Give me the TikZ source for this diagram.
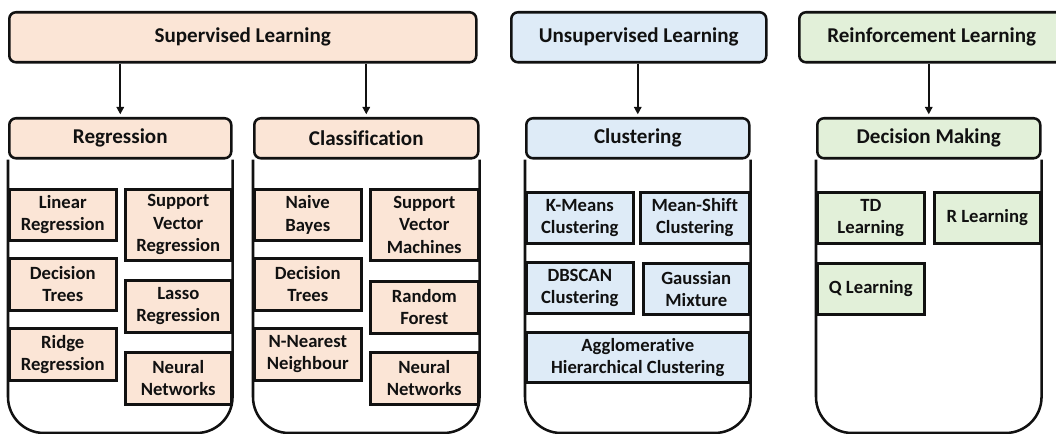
\documentclass[tikz,border=0pt]{standalone}
\usepackage{fontspec}
\setmainfont{Carlito}[Ligatures=NoCommon]
\usetikzlibrary{arrows.meta,backgrounds}
\definecolor{peach}{HTML}{FBE5D6}
\definecolor{skyb}{HTML}{DEEBF7}
\definecolor{mint}{HTML}{E2F0D9}
\definecolor{ink}{HTML}{111111}
\tikzset{
  sz/.style 2 args={minimum width=#1*0.75pt, minimum height=#2*0.75pt},
  head/.style={draw=ink, line width=1.9pt, rounded corners=5pt, inner sep=0pt,
    anchor=north west, text=ink, font=\bfseries\fontsize{15.8}{19}\selectfont},
  item/.style={draw=ink, line width=1.9pt, inner sep=0pt, anchor=north west,
    align=center, text=ink, font=\bfseries\fontsize{14}{16.8}\selectfont},
  wall/.style={draw=ink, line width=1.9pt, rounded corners=27pt},
  link/.style={draw=ink, line width=1.4pt, shorten >=2pt,
    -{Triangle[length=5.5pt,width=5.5pt]}},
}
\begin{document}
\begin{tikzpicture}[x=0.75pt, y=-0.75pt]
\useasboundingbox (0,0) rectangle (1056,434);
\clip (0,0) rectangle (1056,434);
\coordinate (floor) at (0,433);

% top-level categories
\node[head, fill=peach, sz={467}{50}] (sup) at (8,11) {Supervised Learning};
\node[head, fill=skyb,  sz={255}{50}] (uns) at (510,11) {Unsupervised Learning};
\node[head, fill=mint,  sz={265}{50}] (rei) at (798,11) {Reinforcement Learning};

% column headers
\node[head, fill=peach, sz={222}{40}] (reg) at (8,117)   {Regression};
\node[head, fill=peach, sz={224}{40}] (cls) at (253,117) {Classification};
\node[head, fill=skyb,  sz={223}{40}] (clu) at (525,117) {Clustering};
\node[head, fill=mint,  sz={223}{40}] (dec) at (816,117) {Decision Making};

% column walls with rounded bottoms, behind the headers
\begin{scope}[on background layer]
\draw[wall] (reg.south west) |- (reg.south |- floor) -| (reg.south east);
\draw[wall] (cls.south west) |- (cls.south |- floor) -| (cls.south east);
\draw[wall] (clu.south west) |- (clu.south |- floor) -| (clu.south east);
\draw[wall] (dec.south west) |- (dec.south |- floor) -| (dec.south east);
\end{scope}

% connectors
\draw[link] (sup.south -| reg.north) -- (reg.north);
\draw[link] (sup.south -| cls.north) -- (cls.north);
\draw[link] (uns.south -| clu.north) -- (clu.north);
\draw[link] (rei.south -| dec.north) -- (dec.north);

% regression methods
\node[item, fill=peach, sz={107}{51}] (r1) at (8,188)   {Linear\\Regression};
\node[item, fill=peach, sz={106}{71}] (r2) at (124,188) {Support\\Vector\\Regression};
\node[item, fill=peach, sz={107}{52}] (r3) at (8,257)   {Decision\\Trees};
\node[item, fill=peach, sz={106}{52}] (r4) at (124,279) {Lasso\\Regression};
\node[item, fill=peach, sz={107}{52}] (r5) at (8,327)   {Ridge\\Regression};
\node[item, fill=peach, sz={106}{52}] (r6) at (124,351) {Neural\\Networks};

% classification methods
\node[item, fill=peach, sz={107}{51}] (c1) at (253,188) {Naive\\Bayes};
\node[item, fill=peach, sz={108}{71}] (c2) at (369,188) {Support\\Vector\\Machines};
\node[item, fill=peach, sz={107}{52}] (c3) at (253,257) {Decision\\Trees};
\node[item, fill=peach, sz={108}{52}] (c4) at (369,280) {Random\\Forest};
\node[item, fill=peach, sz={107}{52}] (c5) at (253,327) {N-Nearest\\Neighbour};
\node[item, fill=peach, sz={108}{52}] (c6) at (369,351) {Neural\\Networks};

% clustering methods
\node[item, fill=skyb, sz={107}{51}] (k1) at (525,191) {K-Means\\Clustering};
\node[item, fill=skyb, sz={109}{51}] (k2) at (639,191) {Mean-Shift\\Clustering};
\node[item, fill=skyb, sz={107}{51}] (k3) at (525,261) {DBSCAN\\Clustering};
\node[item, fill=skyb, sz={106}{51}] (k4) at (642,262) {Gaussian\\Mixture};
\node[item, fill=skyb, sz={223}{50}] (k5) at (525,331) {Agglomerative\\Hierarchical Clustering};

% decision-making methods
\node[item, fill=mint, sz={107}{51}] (d1) at (816,191) {TD\\Learning};
\node[item, fill=mint, sz={106}{51}] (d2) at (933,191) {R Learning};
\node[item, fill=mint, sz={107}{51}] (d3) at (816,262) {Q Learning};
\end{tikzpicture}
\end{document}
